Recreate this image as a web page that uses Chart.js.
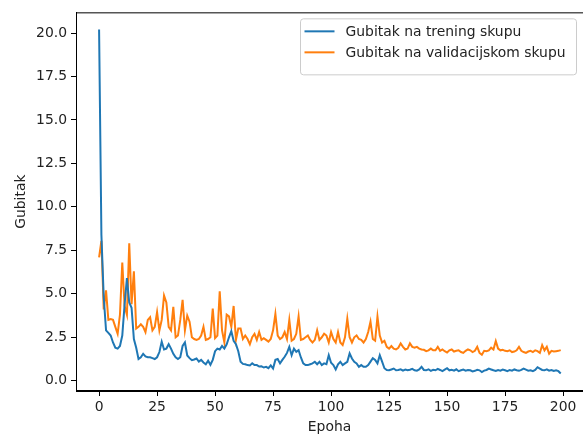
<!DOCTYPE html>
<html>
<head>
<meta charset="utf-8">
<script src="https://cdn.jsdelivr.net/npm/chart.js@4"></script>
<style>
  html, body { margin: 0; padding: 0; background: #fff; }
  #myChart { display: block; }
</style>
</head>
<body>
<canvas id="myChart" width="583" height="442"></canvas>
<script>
// gubitak po epohama (ocitano sa slike)
const trainLoss = [
  20.2, 8.4, 4.8, 2.9, 2.75, 2.6, 2.2, 1.9, 1.85, 2.0,
  2.6, 4.4, 5.9, 4.5, 4.2, 2.4, 1.9, 1.25, 1.35, 1.55,
  1.4, 1.35, 1.35, 1.3, 1.25, 1.35, 1.65, 2.25, 1.8, 1.85,
  2.1, 1.85, 1.55, 1.35, 1.25, 1.35, 2.0, 2.2, 1.45, 1.3,
  1.18, 1.22, 1.28, 1.1, 1.2, 1.05, 0.95, 1.15, 0.92, 1.2,
  1.7, 1.85, 1.8, 2.0, 1.85, 2.1, 2.5, 2.85, 2.3, 2.1,
  1.7, 1.1, 0.97, 0.95, 0.9, 0.88, 1.0, 0.9, 0.9, 0.82,
  0.83, 0.76, 0.8, 0.72, 0.88, 0.7, 1.2, 1.25, 1.0, 1.2,
  1.38, 1.6, 1.95, 1.47, 1.85, 1.66, 1.76, 1.34, 1.0, 0.9,
  0.9, 0.95, 1.0, 1.09, 0.95, 1.09, 0.9, 1.0, 0.95, 1.47,
  1.03, 0.9, 0.65, 0.94, 1.09, 0.9, 1.0, 1.09, 1.57, 1.28,
  1.09, 1.0, 0.8, 0.9, 0.8, 0.8, 0.9, 1.1, 1.3, 1.2,
  1.0, 1.47, 1.1, 0.72, 0.62, 0.6, 0.65, 0.7, 0.6, 0.62,
  0.66, 0.58, 0.64, 0.6, 0.63, 0.68, 0.6, 0.58, 0.65, 0.8,
  0.62, 0.6, 0.66, 0.57, 0.63, 0.6, 0.68, 0.62, 0.55, 0.64,
  0.72, 0.6, 0.63, 0.58, 0.66, 0.55, 0.6, 0.64, 0.58, 0.62,
  0.6, 0.54, 0.57, 0.63, 0.6, 0.5, 0.58, 0.62, 0.7, 0.65,
  0.6, 0.56, 0.62, 0.58, 0.64, 0.6, 0.55, 0.62, 0.58, 0.65,
  0.6, 0.57, 0.62, 0.7, 0.64, 0.58, 0.6, 0.55, 0.62, 0.78,
  0.7, 0.62, 0.6, 0.66, 0.58, 0.62, 0.56, 0.6, 0.55, 0.42,
];

const valLoss = [
  7.1, 8.05, 4.1, 5.2, 3.5, 3.55, 3.5, 3.1, 2.7, 3.8,
  6.8, 4.3, 3.8, 7.9, 4.4, 6.3, 3.0, 3.1, 3.25, 3.1,
  2.8, 3.5, 3.65, 2.9, 3.1, 3.95, 2.9, 3.5, 4.9, 4.5,
  3.1, 2.9, 4.25, 2.5, 2.6, 3.5, 4.65, 2.9, 3.75, 3.4,
  2.5, 2.4, 2.35, 2.4, 2.6, 3.1, 2.35, 2.4, 2.5, 4.15,
  2.45, 2.6, 5.15, 2.9, 2.2, 3.8, 3.7, 3.1, 4.3, 2.35,
  3.0, 3.0, 2.4, 2.6, 2.4, 2.1, 2.5, 2.7, 2.35, 2.8,
  2.35, 2.45, 2.35, 2.25, 2.4, 2.9, 3.85, 2.6, 2.4, 2.5,
  2.8, 2.4, 3.5, 2.3, 2.4, 2.7, 3.7, 2.35, 2.4, 2.5,
  2.6, 2.35, 2.2, 2.35, 2.9, 2.35, 2.5, 2.7, 2.6, 2.2,
  2.8, 2.4, 2.2, 2.8, 2.2, 2.05, 2.5, 3.57, 2.5, 2.2,
  2.5, 2.6, 2.4, 2.35, 2.2, 2.4, 2.8, 3.4, 2.4, 2.3,
  3.7, 2.6, 2.2, 2.3, 1.95, 1.85, 2.0, 1.85, 1.8, 1.9,
  2.15, 1.95, 1.8, 1.85, 2.15, 1.95, 1.9, 1.95, 1.85, 1.8,
  1.78, 1.7, 1.75, 1.85, 1.75, 1.75, 1.95, 1.72, 1.8, 1.7,
  1.62, 1.75, 1.8, 1.68, 1.72, 1.75, 1.65, 1.6, 1.72, 1.8,
  1.75, 1.65, 1.72, 1.95, 1.6, 1.5, 1.72, 1.7, 1.75, 1.9,
  1.8, 2.28, 1.85, 1.75, 1.78, 1.72, 1.7, 1.75, 1.65, 1.68,
  1.75, 1.95, 1.72, 1.65, 1.6, 1.68, 1.72, 1.65, 1.75, 1.7,
  1.6, 2.05, 1.75, 1.95, 1.55, 1.72, 1.68, 1.7, 1.72, 1.76,
];

const epochs = trainLoss.map((v, i) => i);
const xTicks = [0, 25, 50, 75, 100, 125, 150, 175, 200];
const yTicks = [0, 2.5, 5, 7.5, 10, 12.5, 15, 17.5, 20];

const FONT = { family: 'DejaVu Sans', size: 13.9 };
const TEXT = '#222';

// okvir oko grafa (kao matplotlib spines)
const frame = {
  id: 'frame',
  afterDatasetsDraw(chart) {
    const { ctx, chartArea: a } = chart;
    ctx.save();
    ctx.strokeStyle = '#000';
    ctx.lineWidth = 1;
    ctx.strokeRect(a.left + 0.5, a.top + 0.5, a.right - a.left + 2, a.bottom - a.top);
    ctx.restore();
  },
};

// legenda gore desno
const legendBox = {
  id: 'legendBox',
  afterDraw(chart) {
    const { ctx, chartArea: a } = chart;
    const right = a.right - 6.5;
    const left = right - 276;
    const top = a.top + 6.5;
    ctx.save();
    ctx.beginPath();
    ctx.roundRect(left, top, 276, 56, 3);
    ctx.fillStyle = 'rgba(255,255,255,0.8)';
    ctx.fill();
    ctx.strokeStyle = '#cccccc';
    ctx.lineWidth = 1;
    ctx.stroke();
    ctx.font = FONT.size + 'px ' + FONT.family;
    ctx.textBaseline = 'middle';
    chart.data.datasets.forEach((ds, i) => {
      const y = top + 12.5 + i * 21;
      ctx.beginPath();
      ctx.moveTo(left + 4, y);
      ctx.lineTo(left + 34, y);
      ctx.strokeStyle = ds.borderColor;
      ctx.lineWidth = 2;
      ctx.stroke();
      ctx.fillStyle = TEXT;
      ctx.fillText(ds.label, left + 45, y + 1);
    });
    ctx.restore();
  },
};

const data = {
  labels: epochs,
  datasets: [
    {
      label: 'Gubitak na trening skupu',
      data: trainLoss,
      borderColor: '#1f77b4',
      backgroundColor: '#1f77b4',
      borderWidth: 2,
      pointRadius: 0,
      tension: 0,
    },
    {
      label: 'Gubitak na validacijskom skupu',
      data: valLoss,
      borderColor: '#ff7f0e',
      backgroundColor: '#ff7f0e',
      borderWidth: 2,
      pointRadius: 0,
      tension: 0,
    },
  ],
};

const config = {
  type: 'line',
  data: data,
  plugins: [frame, legendBox],
  options: {
    responsive: false,
    animation: false,
    devicePixelRatio: 1,
    layout: { padding: { top: 11, left: 0, right: 0, bottom: 0 } },
    plugins: {
      legend: { display: false },
      tooltip: { enabled: false },
    },
    scales: {
      x: {
        type: 'linear',
        min: -9.95,
        max: 208.6,
        afterFit: (scale) => { scale.height = 51; },
        afterBuildTicks: (scale) => { scale.ticks = xTicks.map((v) => ({ value: v })); },
        title: {
          display: true,
          text: 'Epoha',
          color: TEXT,
          font: FONT,
          padding: { top: 0, bottom: 6 },
        },
        grid: { drawOnChartArea: false, drawTicks: true, tickLength: 5, color: '#000' },
        border: { display: true, color: '#000' },
        ticks: { color: TEXT, font: FONT, padding: 3, maxRotation: 0 },
      },
      y: {
        type: 'linear',
        min: -0.59,
        max: 21.19,
        afterFit: (scale) => { scale.width = 76; },
        afterBuildTicks: (scale) => { scale.ticks = yTicks.map((v) => ({ value: v })); },
        title: {
          display: true,
          text: 'Gubitak',
          color: TEXT,
          font: FONT,
          padding: { top: 13, bottom: 0 },
        },
        grid: { drawOnChartArea: false, drawTicks: true, tickLength: 5, color: '#000' },
        border: { display: true, color: '#000' },
        ticks: {
          color: TEXT,
          font: FONT,
          padding: 4,
          callback: (v) => v.toFixed(1),
        },
      },
    },
  },
};

const lossChart = new Chart(document.getElementById('myChart'), config);
</script>
</body>
</html>
